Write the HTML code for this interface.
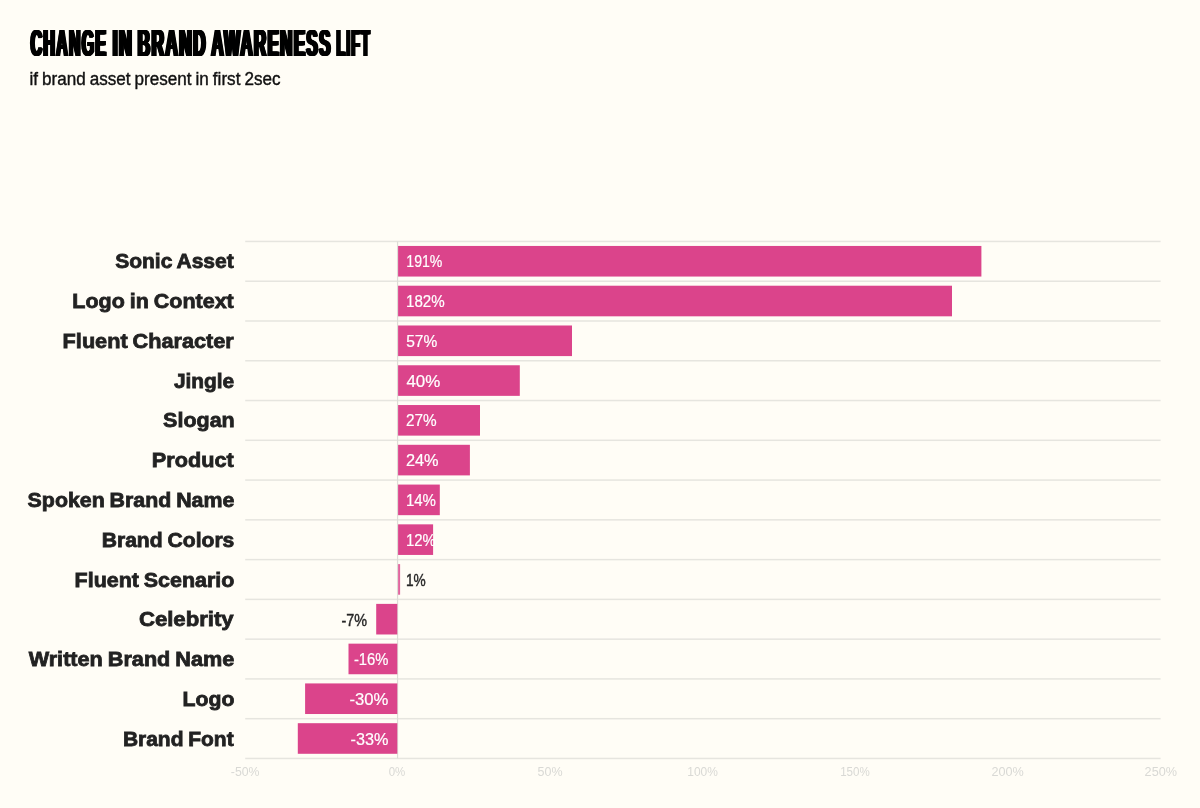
<!DOCTYPE html>
<html lang="en"><head><meta charset="utf-8"><title>Change in Brand Awareness Lift</title>
<style>
html,body{margin:0;padding:0;background:#FFFDF6;}
body{width:1200px;height:808px;overflow:hidden;position:relative;font-family:"Liberation Sans",sans-serif;}
svg{position:absolute;left:0;top:0;display:block;}
text{font-family:"Liberation Sans",sans-serif;white-space:pre;}
.title{font-weight:bold;font-size:37px;fill:#000;letter-spacing:3px;text-shadow:1px 0 0 #000,-1px 0 0 #000,2px 0 0 #000,-2px 0 0 #000,3px 0 0 #000,-3px 0 0 #000;}
.sub{font-size:18px;fill:#111;stroke:#111;stroke-width:0.4px;word-spacing:-0.8px;}
.lab{font-weight:bold;font-size:21px;fill:#222222;stroke:#222222;stroke-width:0.8px;word-spacing:-1px;}
.val{font-size:15.8px;fill:#fff;stroke:#fff;stroke-width:0.2px;}
.val.out{fill:#262626;stroke:#262626;stroke-width:0.4px;}
.tick{font-size:12.1px;fill:#D9D9D5;}
.grid{fill:#E6E5DF;}
.zero{fill:#DDDCD7;}
.bar{fill:#DB448B;}
</style></head><body>
<svg width="1200" height="808" viewBox="0 0 1200 808" role="img" aria-label="Change in brand awareness lift">
<rect x="0" y="0" width="1200" height="808" fill="#FFFDF6"/>
<g class="header">
<text class="title" y="55.6"><tspan x="30.65" textLength="76.6" lengthAdjust="spacingAndGlyphs">CHANGE</tspan> <tspan x="112.7" textLength="20.5" lengthAdjust="spacingAndGlyphs">IN</tspan> <tspan x="137.7" textLength="69.3" lengthAdjust="spacingAndGlyphs">BRAND</tspan> <tspan x="211.4" textLength="120.3" lengthAdjust="spacingAndGlyphs">AWARENESS</tspan> <tspan x="336.5" textLength="34.4" lengthAdjust="spacingAndGlyphs">LIFT</tspan></text>
<text class="sub" x="29.5" y="85" textLength="251" lengthAdjust="spacingAndGlyphs">if brand asset present in first 2sec</text>
</g>
<g class="gridlines">
<rect class="grid" x="245.2" y="240.70" width="915.4" height="1.5"/>
<rect class="grid" x="245.2" y="280.47" width="915.4" height="1.5"/>
<rect class="grid" x="245.2" y="320.24" width="915.4" height="1.5"/>
<rect class="grid" x="245.2" y="360.01" width="915.4" height="1.5"/>
<rect class="grid" x="245.2" y="399.78" width="915.4" height="1.5"/>
<rect class="grid" x="245.2" y="439.55" width="915.4" height="1.5"/>
<rect class="grid" x="245.2" y="479.32" width="915.4" height="1.5"/>
<rect class="grid" x="245.2" y="519.09" width="915.4" height="1.5"/>
<rect class="grid" x="245.2" y="558.86" width="915.4" height="1.5"/>
<rect class="grid" x="245.2" y="598.63" width="915.4" height="1.5"/>
<rect class="grid" x="245.2" y="638.40" width="915.4" height="1.5"/>
<rect class="grid" x="245.2" y="678.17" width="915.4" height="1.5"/>
<rect class="grid" x="245.2" y="717.94" width="915.4" height="1.5"/>
<rect class="grid" x="245.2" y="757.71" width="915.4" height="1.5"/>
<rect class="zero" x="396.95" y="241.40" width="1.2" height="517.01"/>
</g>
<g class="bars">
<rect class="bar" x="398.10" y="245.95" width="583.30" height="30.6"/>
<rect class="bar" x="398.10" y="285.72" width="553.90" height="30.6"/>
<rect class="bar" x="398.10" y="325.49" width="173.90" height="30.6"/>
<rect class="bar" x="398.10" y="365.26" width="121.70" height="30.6"/>
<rect class="bar" x="398.10" y="405.03" width="81.90" height="30.6"/>
<rect class="bar" x="398.10" y="444.80" width="71.80" height="30.6"/>
<rect class="bar" x="398.10" y="484.57" width="41.70" height="30.6"/>
<rect class="bar" x="398.10" y="524.34" width="35.00" height="30.6"/>
<rect class="bar" x="398.10" y="564.11" width="2.00" height="30.6" opacity="0.82"/>
<rect class="bar" x="376.20" y="603.88" width="21.10" height="30.6"/>
<rect class="bar" x="348.50" y="643.65" width="48.80" height="30.6"/>
<rect class="bar" x="305.10" y="683.42" width="92.20" height="30.6"/>
<rect class="bar" x="297.80" y="723.19" width="99.50" height="30.6"/>
</g>
<g class="labels">
<text class="lab" x="115.19" y="268.40" textLength="118.51" lengthAdjust="spacingAndGlyphs">Sonic Asset</text>
<text class="lab" x="72.35" y="308.17" textLength="161.41" lengthAdjust="spacingAndGlyphs">Logo in Context</text>
<text class="lab" x="62.63" y="347.94" textLength="171.15" lengthAdjust="spacingAndGlyphs">Fluent Character</text>
<text class="lab" x="173.90" y="387.71" textLength="60.35" lengthAdjust="spacingAndGlyphs">Jingle</text>
<text class="lab" x="163.13" y="427.48" textLength="71.62" lengthAdjust="spacingAndGlyphs">Slogan</text>
<text class="lab" x="151.89" y="467.25" textLength="81.80" lengthAdjust="spacingAndGlyphs">Product</text>
<text class="lab" x="27.62" y="507.02" textLength="206.69" lengthAdjust="spacingAndGlyphs">Spoken Brand Name</text>
<text class="lab" x="101.68" y="546.79" textLength="132.69" lengthAdjust="spacingAndGlyphs">Brand Colors</text>
<text class="lab" x="74.62" y="586.56" textLength="159.69" lengthAdjust="spacingAndGlyphs">Fluent Scenario</text>
<text class="lab" x="138.91" y="626.33" textLength="94.79" lengthAdjust="spacingAndGlyphs">Celebrity</text>
<text class="lab" x="28.67" y="666.10" textLength="205.62" lengthAdjust="spacingAndGlyphs">Written Brand Name</text>
<text class="lab" x="182.51" y="705.87" textLength="51.87" lengthAdjust="spacingAndGlyphs">Logo</text>
<text class="lab" x="122.88" y="745.64" textLength="110.77" lengthAdjust="spacingAndGlyphs">Brand Font</text>
</g>
<g class="values">
<text class="val" x="406.3" y="267.30" textLength="36.1" lengthAdjust="spacingAndGlyphs">191%</text>
<text class="val" x="406.0" y="307.07" textLength="38.7" lengthAdjust="spacingAndGlyphs">182%</text>
<text class="val" x="406.2" y="346.84" textLength="31.1" lengthAdjust="spacingAndGlyphs">57%</text>
<text class="val" x="406.4" y="386.61" textLength="33.9" lengthAdjust="spacingAndGlyphs">40%</text>
<text class="val" x="406.0" y="426.38" textLength="30.7" lengthAdjust="spacingAndGlyphs">27%</text>
<text class="val" x="405.9" y="466.15" textLength="32.7" lengthAdjust="spacingAndGlyphs">24%</text>
<text class="val" x="405.9" y="505.92" textLength="30.1" lengthAdjust="spacingAndGlyphs">14%</text>
<text class="val" x="405.9" y="545.69" textLength="29.9" lengthAdjust="spacingAndGlyphs">12%</text>
<text class="val out" x="405.9" y="585.86" textLength="19.8" lengthAdjust="spacingAndGlyphs">1%</text>
<text class="val out" x="341.4" y="625.63" textLength="25.6" lengthAdjust="spacingAndGlyphs">-7%</text>
<text class="val" x="353.9" y="665.00" textLength="34.5" lengthAdjust="spacingAndGlyphs">-16%</text>
<text class="val" x="349.5" y="704.77" textLength="38.9" lengthAdjust="spacingAndGlyphs">-30%</text>
<text class="val" x="350.5" y="744.54" textLength="37.9" lengthAdjust="spacingAndGlyphs">-33%</text>
</g>
<g class="axis">
<text class="tick" x="230.8" y="776.1" textLength="28.7" lengthAdjust="spacingAndGlyphs">-50%</text>
<text class="tick" x="388.7" y="776.1" textLength="16.6" lengthAdjust="spacingAndGlyphs">0%</text>
<text class="tick" x="537.5" y="776.1" textLength="25.0" lengthAdjust="spacingAndGlyphs">50%</text>
<text class="tick" x="687.3" y="776.1" textLength="30.6" lengthAdjust="spacingAndGlyphs">100%</text>
<text class="tick" x="840.2" y="776.1" textLength="29.6" lengthAdjust="spacingAndGlyphs">150%</text>
<text class="tick" x="991.5" y="776.1" textLength="32.3" lengthAdjust="spacingAndGlyphs">200%</text>
<text class="tick" x="1144.6" y="776.1" textLength="32.4" lengthAdjust="spacingAndGlyphs">250%</text>
</g>
</svg>
</body></html>
